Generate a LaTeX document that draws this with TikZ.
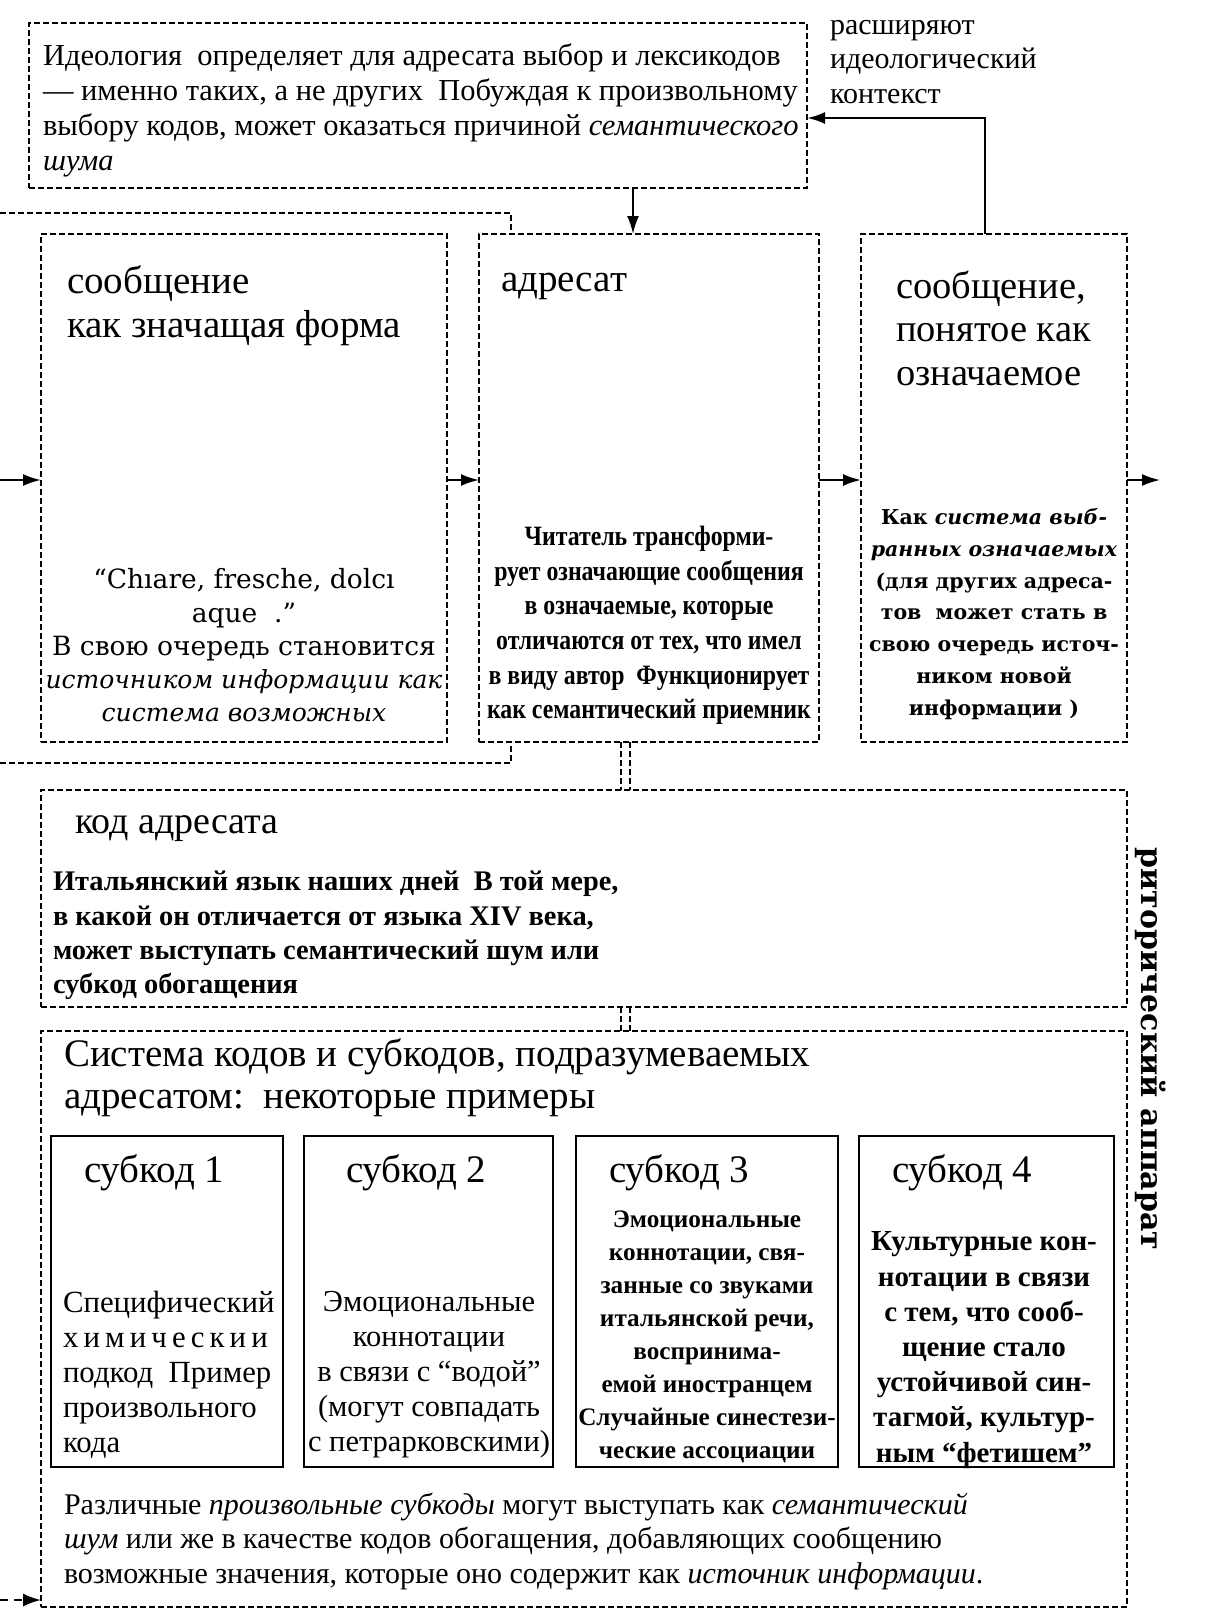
\documentclass[tikz,border=0pt]{standalone}
\usepackage{fontspec}
\setmainfont{Liberation Serif}
\newfontfamily\widef{DejaVu Serif}
\newfontfamily\condf[FakeStretch=0.85]{Liberation Serif}
\usetikzlibrary{arrows.meta}
\newcommand{\fs}[2]{\fontsize{#1}{#2}\selectfont}
\begin{document}
\begin{tikzpicture}[x=1pt,y=-1pt,
 dbox/.style={draw, line width=1.5pt, dash pattern=on 6pt off 3pt, inner sep=0pt, outer sep=0pt},
 dline/.style={line width=1.5pt, dash pattern=on 6pt off 3pt},
 sbox/.style={draw, line width=1.8pt, inner sep=0pt, outer sep=0pt},
 arr/.style={line width=2pt, -{Latex[length=18pt,width=12pt]}},
 txt/.style={inner sep=0pt, outer sep=0pt},
]
\useasboundingbox (0,0) rectangle (1214,1612);
\fill[white] (0,0) rectangle (1214,1612);

% boxes
\node[dbox, minimum width=778pt, minimum height=165pt] (top) at (418,105.5) {};
\node[dbox, minimum width=406pt, minimum height=508pt] (b1) at (244,488) {};
\node[dbox, minimum width=340pt, minimum height=508pt] (b2) at (649,488) {};
\node[dbox, minimum width=266pt, minimum height=508pt] (b3) at (994,488) {};
\node[dbox, minimum width=1086pt, minimum height=217pt] (kod) at (584,898.5) {};
\node[dbox, minimum width=1086pt, minimum height=576pt] (sys) at (584,1319) {};
\node[sbox, minimum width=232pt, minimum height=331pt] (s1) at (167,1301.5) {};
\node[sbox, minimum width=249pt, minimum height=331pt] (s2) at (428.5,1301.5) {};
\node[sbox, minimum width=262pt, minimum height=331pt] (s3) at (707,1301.5) {};
\node[sbox, minimum width=255pt, minimum height=331pt] (s4) at (986.5,1301.5) {};

% outer frame of the left group
\coordinate (fl1) at (0,213);
\coordinate (fr1) at (511,213);
\coordinate (fl2) at (0,763);
\coordinate (fr2) at (511,763);
\draw[dline] (fl1) -- (fr1) -- (fr1 |- b2.north);
\draw[dline] (fl2) -- (fr2) -- (fr2 |- b2.south);

% arrows of the main chain
\coordinate (inL) at (0,480);
\coordinate (outR) at (1160,480);
\draw[arr] (inL) -- (inL -| b1.west);
\draw[arr] (inL -| b1.east) -- (inL -| b2.west);
\draw[arr] (inL -| b2.east) -- (inL -| b3.west);
\draw[arr] (inL -| b3.east) -- (outR);

% ideology -> addressee
\coordinate (dn) at (633,0);
\draw[arr] (dn |- top.south) -- (dn |- b2.north);
% feedback
\coordinate (fb) at (985,118);
\draw[line width=2.6pt, -{Latex[length=18pt,width=12pt]}] (fb |- b3.north) -- (fb) -- (fb -| top.east);

% double links
\coordinate (dl1) at (621,0);
\coordinate (dl2) at (630,0);
\draw[dline] (dl1 |- b2.south) -- (dl1 |- kod.north);
\draw[dline] (dl2 |- b2.south) -- (dl2 |- kod.north);
\draw[dline] (dl1 |- kod.south) -- (dl1 |- sys.north);
\draw[dline] (dl2 |- kod.south) -- (dl2 |- sys.north);

% bottom-left arrow
\coordinate (inB) at (0,1600);
\draw[line width=2pt, dash pattern=on 8pt off 6pt, -{Latex[length=18pt,width=13pt]}] (inB) -- (inB -| sys.west);

% texts
\node[txt, anchor=west, align=left, font=\fs{30.5}{35}] (ttop) at (43,110)
 {Идеология\ \ определяет для адресата выбор и лексикодов\\
  — именно таких, а не других\ \ Побуждая к произвольному\\
  выбору кодов, может оказаться причиной \textit{семантического}\\
  \textit{шума}};
\node[txt, anchor=west, align=left, font=\fs{30}{34.5}] (tctx) at (830,62)
 {расширяют\\идеологический\\контекст};

\node[txt, anchor=west, align=left, font=\fs{39}{44}] (h1) at (67,306)
 {сообщение\\как значащая форма};
\node[txt, align=center, font=\widef\fs{26.5}{33.25}] (l1) at (244,645.5)
 {“Chıare, fresche, dolcı\\aque\ \ .”\\В свою очередь становится\\
  {\fontsize{25}{33.25}\selectfont\itshape источником информации как}\\
  {\fontsize{25}{33.25}\selectfont\itshape система возможных}};

\node[txt, anchor=west, font=\fs{39}{44}] (h2) at (501,286) {адресат};
\node[txt, align=center, font=\condf\bfseries\fs{28}{34.6}] (l2) at (649,625.5)
 {Читатель трансформи-\\рует означающие сообщения\\в означаемые, которые\\
  отличаются от тех, что имел\\в виду автор\ \ Функционирует\\как семантический приемник};

\node[txt, anchor=west, align=left, font=\fs{38.5}{43.5}] (h3) at (896,328)
 {сообщение,\\понятое как\\означаемое};
\node[txt, align=center, font=\widef\bfseries\fs{20.5}{31.7}] (l3) at (994,614)
 {Как \textit{система выб-}\\\textit{ранных означаемых}\\(для других адреса-\\
  тов\ \ может стать в\\свою очередь источ-\\ником новой\\информации )};

\node[txt, anchor=west, font=\fs{38}{42}] (hk) at (75,829) {код адресата};
\node[txt, anchor=west, align=left, font=\bfseries\fs{28.4}{34.3}] (lk) at (53,935.5)
 {Итальянский язык наших дней\ \ В той мере,\\в какой он отличается от языка XIV века,\\
  может выступать семантический шум или\\субкод обогащения};

\node[txt, anchor=west, align=left, font=\fs{39}{42}] (hs) at (64,1078)
 {Система кодов и субкодов, подразумеваемых\\адресатом:\ \ некоторые примеры};

\node[txt, anchor=west, font=\fs{39}{42}] (hs1) at (84,1173) {субкод 1};
\node[txt, anchor=west, font=\fs{39}{42}] (hs2) at (346,1173) {субкод 2};
\node[txt, anchor=west, font=\fs{39}{42}] (hs3) at (609,1173) {субкод 3};
\node[txt, anchor=west, font=\fs{39}{42}] (hs4) at (892,1173) {субкод 4};

\node[txt, anchor=west, align=left, font=\fs{30.8}{35}] (ls1) at (63,1375)
 {Специфический\\х\,и\,м\,и\,ч\,е\,с\,к\,и\,и\\подкод\ \ Пример\\произвольного\\кода};
\node[txt, align=center, font=\fs{30.5}{35}] (ls2) at (429,1375)
 {Эмоциональные\\коннотации\\в связи с “водой”\\(могут совпадать\\с петрарковскими)};
\node[txt, align=center, font=\bfseries\fs{25.2}{33}] (ls3) at (707,1337)
 {Эмоциональные\\коннотации, свя-\\занные со звуками\\итальянской речи,\\
  воспринима-\\емой иностранцем\\Случайные синестези-\\ческие ассоциации};
\node[txt, align=center, font=\bfseries\fs{29}{35.2}] (ls4) at (984,1350)
 {Культурные кон-\\нотации в связи\\с тем, что сооб-\\щение стало\\
  устойчивой син-\\тагмой, культур-\\ным “фетишем”};

\node[txt, anchor=west, align=left, font=\fs{30}{34.5}] (lb) at (64,1541)
 {Различные \textit{произвольные субкоды} могут выступать как \textit{семантический}\\
  \textit{шум} или же в качестве кодов обогащения, добавляющих сообщению\\
  возможные значения, которые оно содержит как \textit{источник информации}.};

\node[txt, rotate=-90, font=\widef\bfseries\fs{30}{36}] (rht) at (1151,1049) {риторический аппарат};
\end{tikzpicture}
\end{document}
